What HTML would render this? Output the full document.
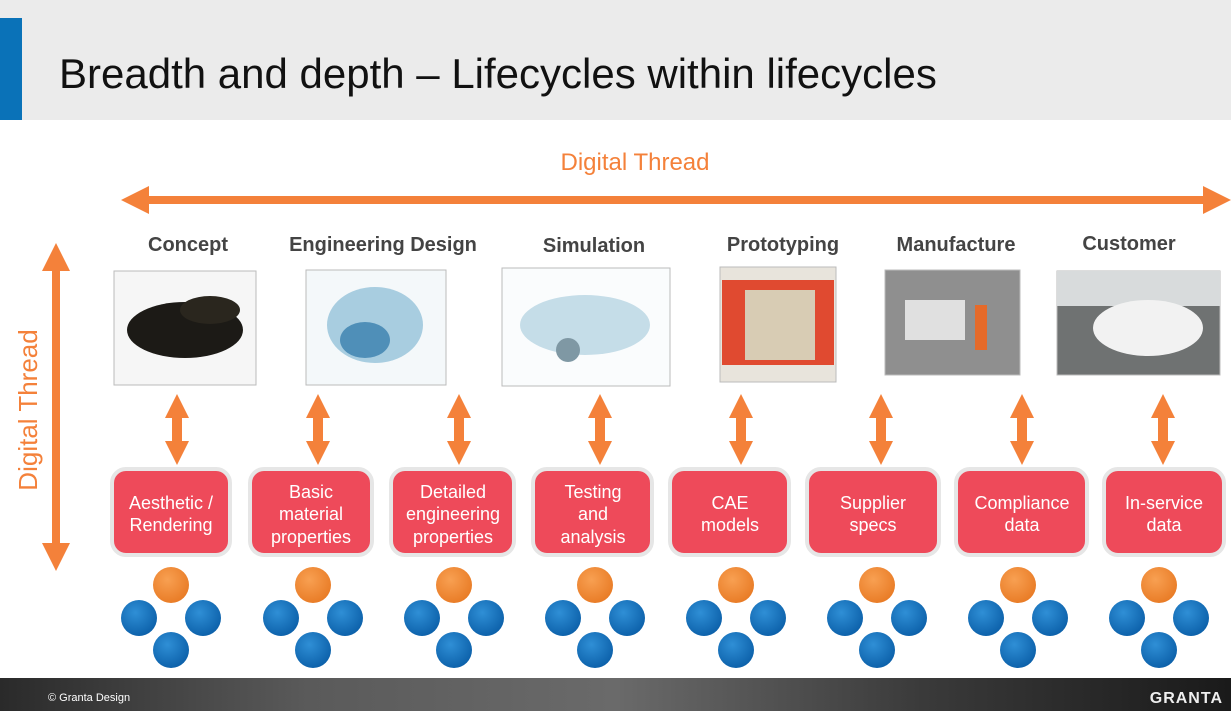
<!DOCTYPE html>
<html><head><meta charset="utf-8"><style>
html,body{margin:0;padding:0;background:#fff;}
body{width:1231px;height:711px;overflow:hidden;position:relative;font-family:"Liberation Sans",Arial,sans-serif;}
</style></head><body>
<svg width="1231" height="711" viewBox="0 0 1231 711" xmlns="http://www.w3.org/2000/svg" style="position:absolute;left:0;top:0">
<defs>
<linearGradient id="ft" x1="0" x2="1" y1="0" y2="0">
<stop offset="0" stop-color="#2a2a2a"/><stop offset="0.25" stop-color="#5a5a5a"/><stop offset="0.5" stop-color="#6a6a6a"/><stop offset="0.75" stop-color="#3a3a3a"/><stop offset="1" stop-color="#1a1a1a"/>
</linearGradient>
<radialGradient id="bc" cx="0.4" cy="0.35" r="0.7"><stop offset="0" stop-color="#2f8fd6"/><stop offset="1" stop-color="#0b5fa8"/></radialGradient>
<radialGradient id="oc" cx="0.4" cy="0.35" r="0.7"><stop offset="0" stop-color="#f8a052"/><stop offset="1" stop-color="#e87a24"/></radialGradient>
</defs>
<rect x="0" y="0" width="1231" height="120" fill="#ebebeb"/>
<rect x="0" y="18" width="22" height="102" fill="#0a72b8"/>
<text x="59" y="88" font-size="42" fill="#111">Breadth and depth – Lifecycles within lifecycles</text>

<text x="635" y="170" font-size="24" fill="#f4813a" text-anchor="middle">Digital Thread</text>
<polygon points="121,200 149,186 149,196 1203,196 1203,186 1231,200 1203,214 1203,204 149,204 149,214" fill="#f4813a"/>
<polygon points="56,243 70,271 60,271 60,543 70,543 56,571 42,543 52,543 52,271 42,271" fill="#f4813a"/>
<text transform="translate(37,410) rotate(-90)" font-size="26" fill="#f4813a" text-anchor="middle">Digital Thread</text>

<g font-size="20" font-weight="bold" fill="#444" text-anchor="middle">
<text x="188" y="251">Concept</text>
<text x="383" y="251">Engineering Design</text>
<text x="594" y="252">Simulation</text>
<text x="783" y="251">Prototyping</text>
<text x="956" y="251">Manufacture</text>
<text x="1129" y="250">Customer</text>
</g>

<rect x="114" y="271" width="142" height="114" fill="#f6f6f6" stroke="#bbb"/>
<ellipse cx="185" cy="330" rx="58" ry="28" fill="#1c1a16"/>
<ellipse cx="210" cy="310" rx="30" ry="14" fill="#2a261e"/>
<rect x="306" y="270" width="140" height="115" fill="#f4f8fa" stroke="#bbb"/>
<ellipse cx="375" cy="325" rx="48" ry="38" fill="#a8cde0"/>
<ellipse cx="365" cy="340" rx="25" ry="18" fill="#4f8fb8"/>
<rect x="502" y="268" width="168" height="118" fill="#fafcfd" stroke="#bbb"/>
<ellipse cx="585" cy="325" rx="65" ry="30" fill="#c5dde8"/>
<circle cx="568" cy="350" r="12" fill="#7f98a4"/>
<rect x="720" y="267" width="116" height="115" fill="#e8e4dc" stroke="#bbb"/>
<rect x="722" y="280" width="112" height="85" fill="#e04a30"/>
<rect x="745" y="290" width="70" height="70" fill="#d8ccb4"/>
<rect x="885" y="270" width="135" height="105" fill="#8f8f8f" stroke="#bbb"/>
<rect x="905" y="300" width="60" height="40" fill="#e0e0e0"/>
<rect x="975" y="305" width="12" height="45" fill="#e56a2a"/>
<rect x="1057" y="271" width="163" height="104" fill="#6f7272" stroke="#bbb"/>
<rect x="1057" y="271" width="163" height="35" fill="#d8dbdc"/>
<ellipse cx="1148" cy="328" rx="55" ry="28" fill="#f2f2f2"/>

<g fill="#f4813a">
<polygon id="va" points="177,394 189,418 182,418 182,441 189,441 177,465 165,441 172,441 172,418 165,418"/>
<use href="#va" x="141"/><use href="#va" x="282"/><use href="#va" x="423"/>
<use href="#va" x="564"/><use href="#va" x="704"/><use href="#va" x="845"/><use href="#va" x="986"/>
</g>

<g fill="#ee4a5a" stroke="#e6e6e6" stroke-width="4">
<rect x="112" y="469" width="118" height="86" rx="14"/>
<rect x="250" y="469" width="122" height="86" rx="14"/>
<rect x="391" y="469" width="123" height="86" rx="14"/>
<rect x="533" y="469" width="119" height="86" rx="14"/>
<rect x="670" y="469" width="119" height="86" rx="14"/>
<rect x="807" y="469" width="132" height="86" rx="14"/>
<rect x="956" y="469" width="131" height="86" rx="14"/>
<rect x="1104" y="469" width="120" height="86" rx="14"/>
</g>
<g font-size="18" fill="#fff" text-anchor="middle">
<text x="171" y="509">Aesthetic /</text><text x="171" y="531">Rendering</text>
<text x="311" y="498">Basic</text><text x="311" y="520">material</text><text x="311" y="543">properties</text>
<text x="453" y="498">Detailed</text><text x="453" y="520">engineering</text><text x="453" y="543">properties</text>
<text x="593" y="498">Testing</text><text x="593" y="520">and</text><text x="593" y="543">analysis</text>
<text x="730" y="509">CAE</text><text x="730" y="531">models</text>
<text x="873" y="509">Supplier</text><text x="873" y="531">specs</text>
<text x="1022" y="509">Compliance</text><text x="1022" y="531">data</text>
<text x="1164" y="509">In-service</text><text x="1164" y="531">data</text>
</g>

<g id="cl">
<circle cx="171" cy="585" r="18" fill="url(#oc)"/>
<circle cx="139" cy="618" r="18" fill="url(#bc)"/>
<circle cx="203" cy="618" r="18" fill="url(#bc)"/>
<circle cx="171" cy="650" r="18" fill="url(#bc)"/>
</g>
<use href="#cl" x="142"/><use href="#cl" x="283"/><use href="#cl" x="424"/>
<use href="#cl" x="565"/><use href="#cl" x="706"/><use href="#cl" x="847"/><use href="#cl" x="988"/>

<rect x="0" y="678" width="1231" height="33" fill="url(#ft)"/>
<text x="48" y="701" font-size="11" fill="#fff">© Granta Design</text>
<text x="1223" y="703" font-size="16" font-weight="bold" fill="#eee" text-anchor="end" letter-spacing="1">GRANTA</text>
</svg>
</body></html>
